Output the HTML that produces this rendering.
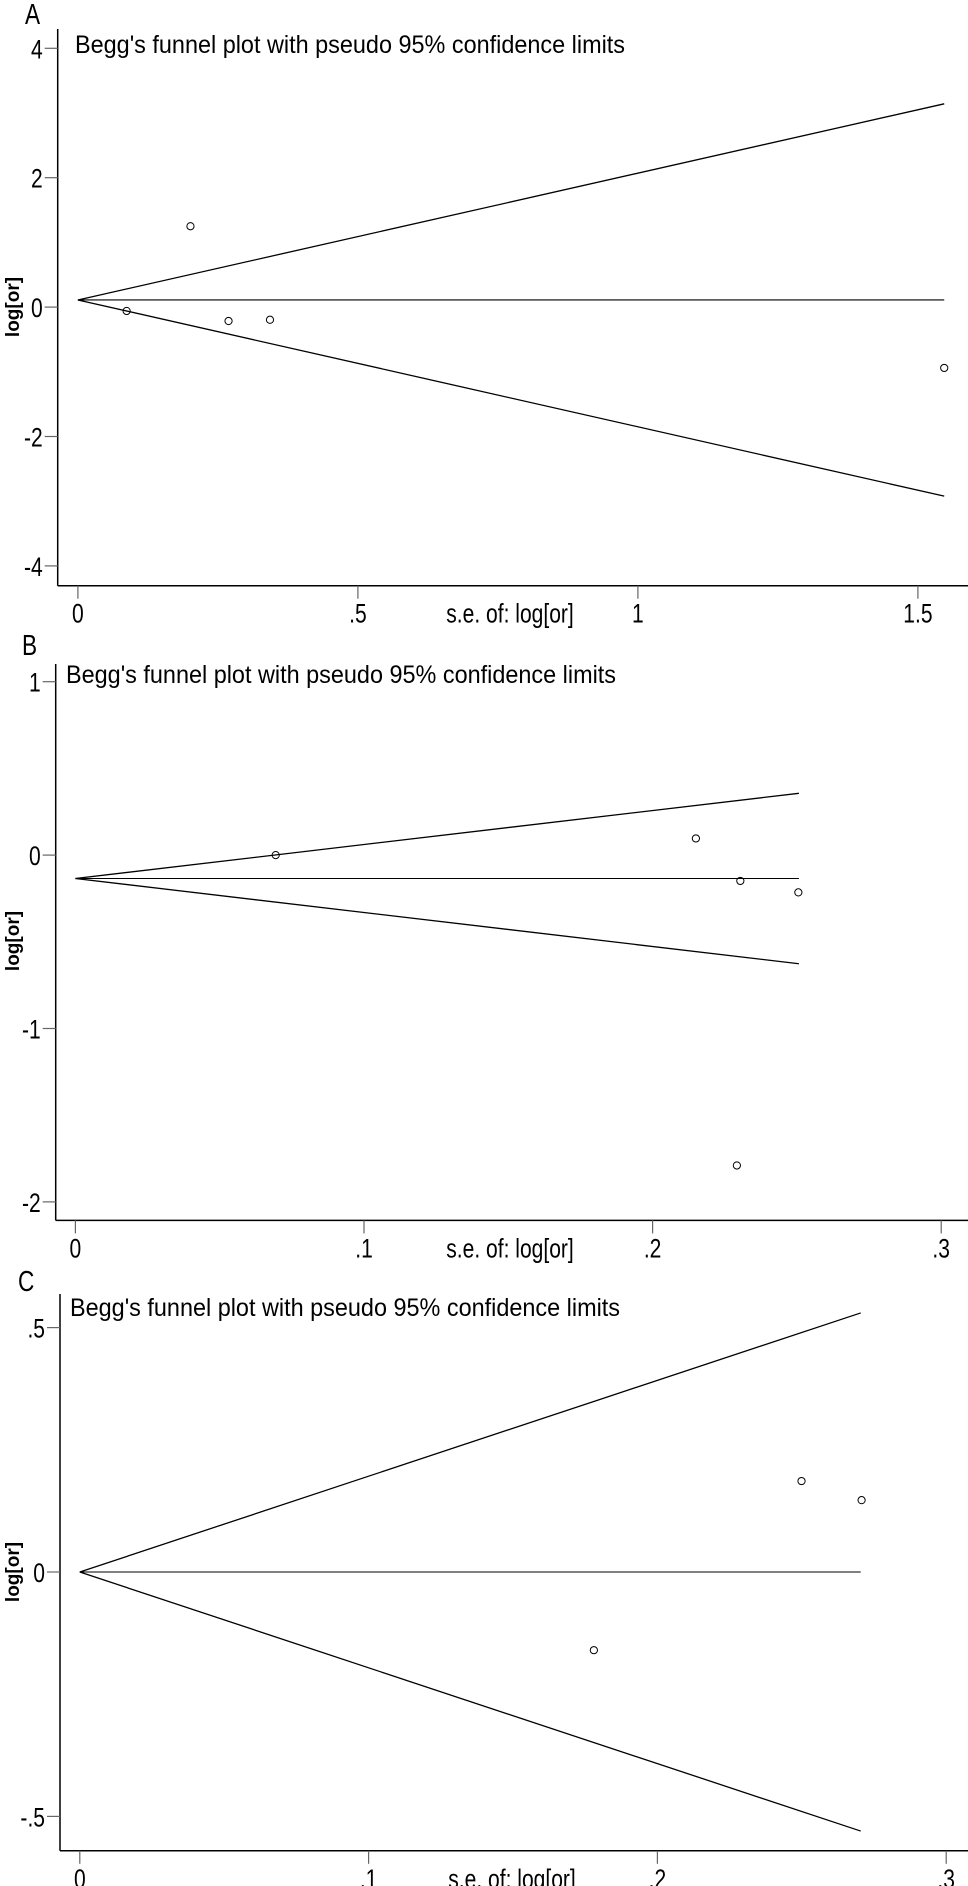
<!DOCTYPE html>
<html><head><meta charset="utf-8"><style>
html,body{margin:0;padding:0;background:#fff;}
svg{display:block;}
text{font-family:"Liberation Sans",Arial,sans-serif;fill:#000;}
</style></head><body>
<svg id="fig" width="968" height="1886" viewBox="0 0 968 1886" xmlns="http://www.w3.org/2000/svg"></svg>
<script>
// Panel A data
const seA = [0.087, 0.201, 0.269, 0.343, 1.547];
const lorA = [-0.06, 1.25, -0.215, -0.196, -0.94];
const pooledA = 0.11;
const maxSeA = 1.547;
const xTicksA = [0, 0.5, 1, 1.5];
const xTickLabelsA = ["0", ".5", "1", "1.5"];
const yTicksA = [4, 2, 0, -2, -4];
const yTickLabelsA = ["4", "2", "0", "-2", "-4"];
// Panel B data
const seB = [0.0694, 0.215, 0.2304, 0.2505, 0.2292];
const lorB = [0.0, 0.096, -0.149, -0.215, -1.79];
const pooledB = -0.135;
const maxSeB = 0.2507;
const xTicksB = [0, 0.1, 0.2, 0.3];
const xTickLabelsB = ["0", ".1", ".2", ".3"];
const yTicksB = [1, 0, -1, -2];
const yTickLabelsB = ["1", "0", "-1", "-2"];
// Panel C data
const seC = [0.2499, 0.2707, 0.178];
const lorC = [0.186, 0.147, -0.16];
const pooledC = 0.0;
const maxSeC = 0.2704;
const xTicksC = [0, 0.1, 0.2, 0.3];
const xTickLabelsC = ["0", ".1", ".2", ".3"];
const yTicksC = [0.5, 0, -0.5];
const yTickLabelsC = [".5", "0", "-.5"];

const NS = "http://www.w3.org/2000/svg";
const svg = document.getElementById("fig");
function mk(tag, attrs, parent) {
  const e = document.createElementNS(NS, tag);
  for (const k in attrs) e.setAttribute(k, attrs[k]);
  (parent || svg).appendChild(e);
  return e;
}
// condensed text helper
function ctext(parent, x, y, size, anchor, str) {
  const t = mk("text", {x: 0, y: 0, "font-size": size, "text-anchor": anchor,
    transform: "translate(" + x + "," + y + ") scale(0.78,1)"}, parent);
  t.textContent = str;
  return t;
}

function panel(cfg) {
  const g = mk("g", {});
  
  
  const x = v => cfg.x0 + v * cfg.xs;
  const y = v => cfg.y0 - v * cfg.ys;

  const lab = ctext(g, cfg.labX, cfg.labY, 29, "start", cfg.id);
  
  

  const title = mk("text", {x: cfg.titleX, y: cfg.titleY, "font-size": 25, textLength: 550, lengthAdjust: "spacingAndGlyphs"}, g);
  title.textContent = "Begg's funnel plot with pseudo 95% confidence limits";
  
  

  const ya = mk("line", {x1: cfg.axX, x2: cfg.axX, y1: cfg.axTop, y2: cfg.axBot, stroke: "#000", "stroke-width": 1.5}, g);
  
  
  const xa = mk("line", {x1: cfg.axX, x2: 968, y1: cfg.axBot, y2: cfg.axBot, stroke: "#000", "stroke-width": 1.5}, g);
  
  

  cfg.yTicks.forEach((v, i) => {
    const t = mk("line", {x1: cfg.axX - 13, x2: cfg.axX, y1: y(v), y2: y(v), stroke: "#666", "stroke-width": 1.2}, g);
    
    
    const tl = ctext(g, cfg.axX - 15, y(v) + 10, 27, "end", cfg.yLabels[i]);
    
    
  });
  cfg.xTicks.forEach((v, i) => {
    const t = mk("line", {x1: x(v), x2: x(v), y1: cfg.axBot, y2: cfg.axBot + 13, stroke: "#666", "stroke-width": 1.2}, g);
    
    
    const tl = ctext(g, x(v), cfg.axBot + 37, 27, "middle", cfg.xLabels[i]);
    
    
  });

  const xt = ctext(g, cfg.xTitleX, cfg.axBot + 37, 27, "middle", "s.e. of: log[or]");
  
  
  const yt = mk("text", {x: 0, y: 0, "font-size": 19, "font-weight": "bold", "text-anchor": "middle",
    transform: "translate(19," + cfg.yTitleY + ") rotate(-90)"}, g);
  yt.textContent = "log[or]";
  
  

  const p = cfg.pooled, m = cfg.maxSe;
  const up = mk("line", {x1: x(0), y1: y(p), x2: x(m), y2: y(p + 1.96 * m), stroke: "#000", "stroke-width": 1.3}, g);
  
  
  const lo = mk("line", {x1: x(0), y1: y(p), x2: x(m), y2: y(p - 1.96 * m), stroke: "#000", "stroke-width": 1.3}, g);
  
  
  const pl = mk("line", {x1: x(0), y1: y(p), x2: x(m), y2: y(p), stroke: "#000", "stroke-width": 1.1}, g);
  
  

  cfg.se.forEach((s, i) => {
    const c = mk("circle", {cx: x(s), cy: y(cfg.lor[i]), r: 3.6, fill: "none", stroke: "#000", "stroke-width": 1}, g);
    
    
  });
}

panel({id: "A", se: seA, lor: lorA, pooled: pooledA, maxSe: maxSeA,
  xTicks: xTicksA, xLabels: xTickLabelsA, yTicks: yTicksA, yLabels: yTickLabelsA,
  x0: 77.9, xs: 560, y0: 307.1, ys: 64.7, axX: 57.7, axTop: 29, axBot: 585.7,
  labX: 25, labY: 24, titleX: 75, titleY: 53, xTitleX: 510, yTitleY: 307});
panel({id: "B", se: seB, lor: lorB, pooled: pooledB, maxSe: maxSeB,
  xTicks: xTicksB, xLabels: xTickLabelsB, yTicks: yTicksB, yLabels: yTickLabelsB,
  x0: 75.4, xs: 2886, y0: 855.1, ys: 173.4, axX: 55.7, axTop: 664, axBot: 1220.4,
  labX: 22, labY: 655, titleX: 66, titleY: 683, xTitleX: 510, yTitleY: 941});
panel({id: "C", se: seC, lor: lorC, pooled: pooledC, maxSe: maxSeC,
  xTicks: xTicksC, xLabels: xTickLabelsC, yTicks: yTicksC, yLabels: yTickLabelsC,
  x0: 79.8, xs: 2888, y0: 1572, ys: 488.8, axX: 60, axTop: 1294, axBot: 1850.8,
  labX: 18, labY: 1291, titleX: 70, titleY: 1316, xTitleX: 512, yTitleY: 1572});
</script>
</body></html>
